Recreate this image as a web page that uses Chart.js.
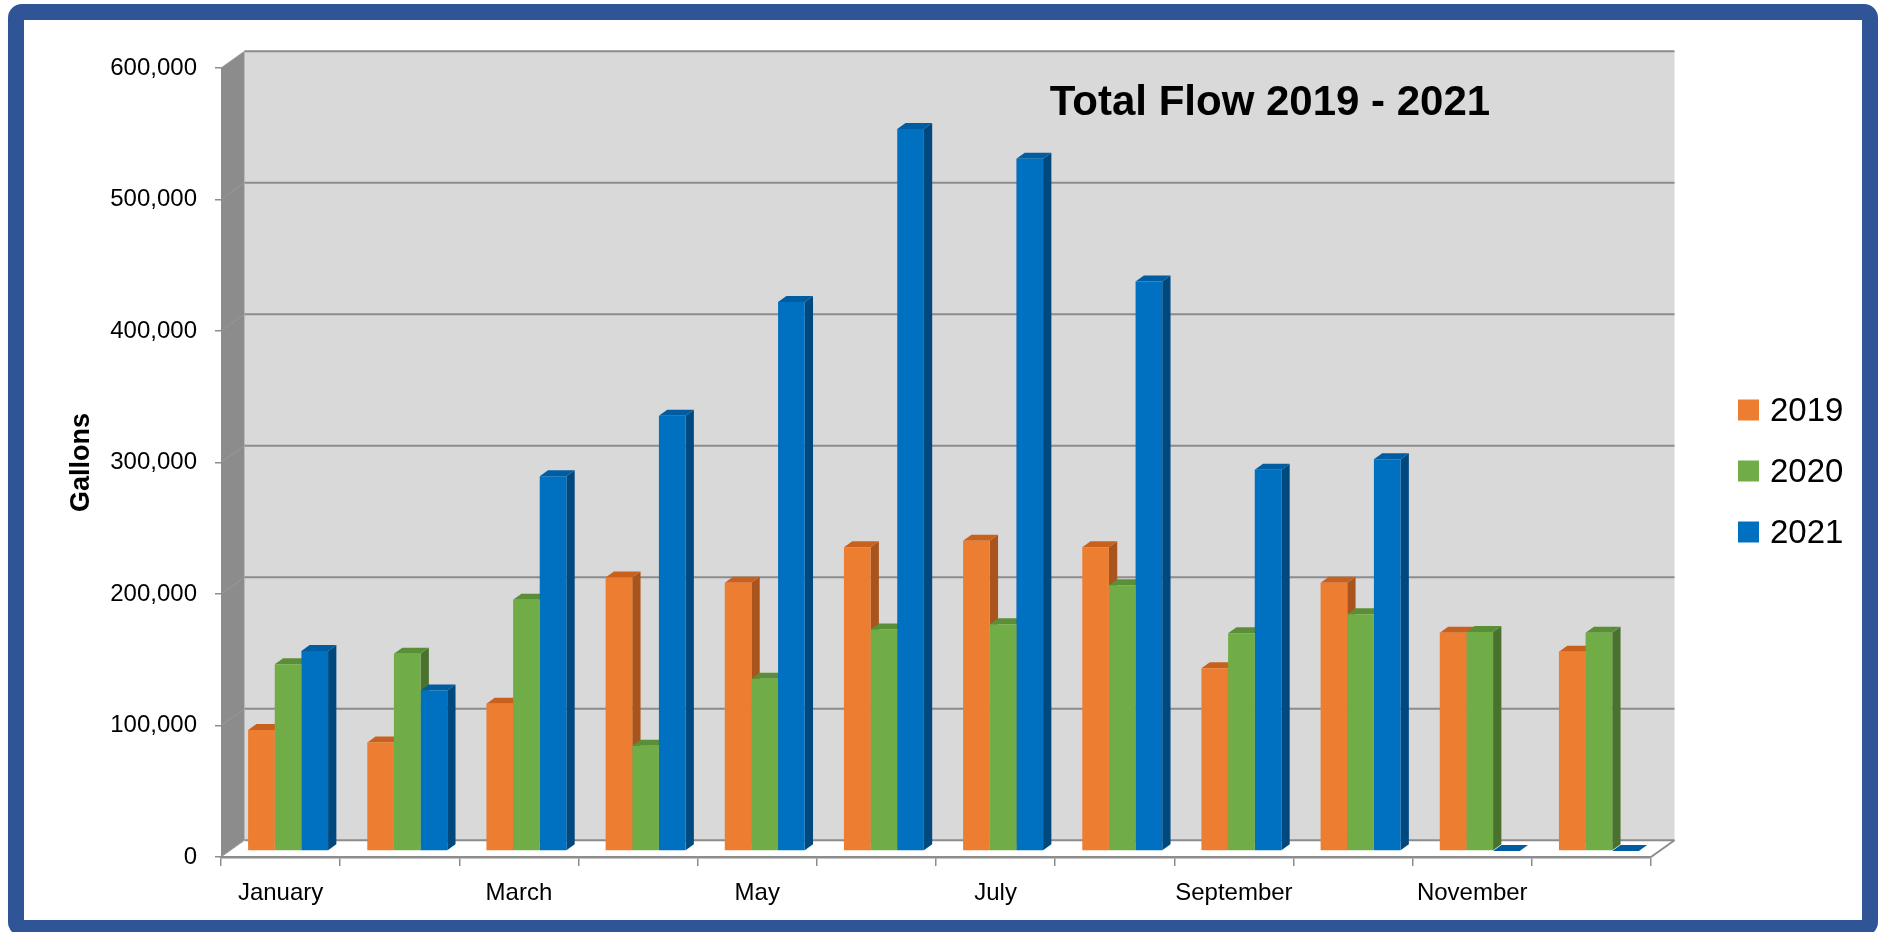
<!DOCTYPE html>
<html>
<head>
<meta charset="utf-8">
<title>Total Flow 2019 - 2021</title>
<script src="https://cdn.jsdelivr.net/npm/chart.js@4.4.1/dist/chart.umd.min.js"></script>
<style>
  html, body { margin: 0; padding: 0; background: #fff; }
  #wrap { position: relative; width: 1883px; height: 932px; overflow: hidden; }
  #frame {
    position: absolute; left: 8px; top: 4px; width: 1870px; height: 932px;
    border: 16px solid #2f5597; border-radius: 14px; box-sizing: border-box;
    pointer-events: none;
  }
</style>
</head>
<body>
<div id="wrap">
  <canvas id="flowChart" width="1883" height="932"></canvas>
  <div id="frame"></div>
</div>
<script>
const months = ['January', 'February', 'March', 'April', 'May', 'June', 'July',
  'August', 'September', 'October', 'November', 'December'];
const seriesNames = ['2019', '2020', '2021'];
const flow2019 = [92000, 82500, 112000, 208000, 204000, 231000, 236000, 231000, 139000, 204000, 166000, 151500];
const flow2020 = [142000, 150000, 191000, 80000, 131000, 168500, 172500, 202000, 165500, 180000, 166500, 166000];
const flow2021 = [152000, 122000, 285000, 331000, 417500, 549000, 526500, 433000, 290000, 298000, 0, 0];

const FONT = "'Liberation Sans', Arial, sans-serif";
const GRID = '#8c8c8c';

// depth of the box (walls) and of the columns
const DX = 23.5, DY = 16.7;
const BDX = 8.3, BDY = 6;
const SHIFT_X = 7.5, SHIFT_Y = -6;

function poly(ctx, pts, fill) {
  ctx.beginPath();
  ctx.moveTo(pts[0][0], pts[0][1]);
  for (let i = 1; i < pts.length; i++) ctx.lineTo(pts[i][0], pts[i][1]);
  ctx.closePath();
  ctx.fillStyle = fill;
  ctx.fill();
}

const walls = {
  id: 'walls',
  beforeDraw(chart) {
    const {ctx, chartArea: a, scales: {y}} = chart;
    ctx.save();
    ctx.fillStyle = '#d9d9d9';
    ctx.fillRect(a.left + DX, a.top - DY, a.width, a.height);
    poly(ctx, [[a.left, a.top], [a.left + DX, a.top - DY], [a.left + DX, a.bottom - DY], [a.left, a.bottom]], '#8c8c8c');
    poly(ctx, [[a.left, a.bottom], [a.left + DX, a.bottom - DY], [a.right + DX, a.bottom - DY], [a.right, a.bottom]], '#ffffff');

    y.ticks.forEach(t => {
      const py = y.getPixelForValue(t.value);
      ctx.strokeStyle = GRID;
      ctx.lineWidth = 2;
      ctx.beginPath();
      ctx.moveTo(a.left + DX, py - DY);
      ctx.lineTo(a.right + DX, py - DY);
      ctx.stroke();
      ctx.strokeStyle = '#999999';
      ctx.lineWidth = 1;
      ctx.beginPath();
      ctx.moveTo(a.left, py);
      ctx.lineTo(a.left + DX, py - DY);
      ctx.stroke();
    });
    ctx.strokeStyle = GRID;
    ctx.lineWidth = 2;
    ctx.beginPath();
    ctx.moveTo(a.right, a.bottom);
    ctx.lineTo(a.right + DX, a.bottom - DY);
    ctx.stroke();
    ctx.restore();
  }
};

// top and side faces go in first, left to right; the library then paints the front faces over them
const bars3d = {
  id: 'bars3d',
  beforeDatasetsDraw(chart) {
    const ctx = chart.ctx;
    ctx.save();
    ctx.translate(SHIFT_X, SHIFT_Y);
    const metas = chart.data.datasets.map((ds, i) => chart.getDatasetMeta(i));
    months.forEach((m, j) => {
      metas.forEach((meta, i) => {
        const ds = chart.data.datasets[i];
        const bar = meta.data[j];
        const {x, y, base, width} = bar.getProps(['x', 'y', 'base', 'width'], true);
        const l = x - width / 2, r = x + width / 2;
        if (base - y > 0.5) {
          poly(ctx, [[r, y], [r + BDX, y - BDY], [r + BDX, base - BDY], [r, base]], ds.sideColor);
        }
        poly(ctx, [[l, y], [l + BDX, y - BDY], [r + BDX, y - BDY], [r, y]], ds.topColor);
      });
    });
  },
  afterDatasetsDraw(chart) {
    chart.ctx.restore();
  }
};

const titleAndLegend = {
  id: 'titleAndLegend',
  afterDraw(chart) {
    const ctx = chart.ctx;
    ctx.save();
    ctx.fillStyle = '#000';
    ctx.font = 'bold 42px ' + FONT;
    ctx.textAlign = 'center';
    ctx.textBaseline = 'alphabetic';
    ctx.fillText('Total Flow 2019 - 2021', 1270, 115);

    ctx.font = '33px ' + FONT;
    ctx.textAlign = 'left';
    chart.data.datasets.forEach((ds, i) => {
      const top = 399.5 + i * 61;
      ctx.fillStyle = ds.backgroundColor;
      ctx.fillRect(1738, top, 21, 21);
      ctx.fillStyle = '#000';
      ctx.fillText(ds.label, 1770, top + 21);
    });
    ctx.restore();
  }
};

new Chart(document.getElementById('flowChart'), {
  type: 'bar',
  data: {
    labels: months,
    datasets: [
      { label: seriesNames[0], data: flow2019, backgroundColor: '#ed7d31', topColor: '#c9611d', sideColor: '#a8541c' },
      { label: seriesNames[1], data: flow2020, backgroundColor: '#70ad47', topColor: '#5a8f37', sideColor: '#4a722e' },
      { label: seriesNames[2], data: flow2021, backgroundColor: '#0070c0', topColor: '#005da2', sideColor: '#00497f' }
    ]
  },
  options: {
    responsive: false,
    devicePixelRatio: 1,
    animation: false,
    layout: { padding: { left: 0, top: 68, right: 232, bottom: 0 } },
    datasets: {
      bar: { categoryPercentage: 0.671, barPercentage: 1, borderWidth: 0 }
    },
    plugins: {
      legend: { display: false },
      title: { display: false },
      tooltip: { enabled: false }
    },
    scales: {
      x: {
        afterFit: scale => { scale.height = 75; },
        grid: { display: true, offset: true, drawOnChartArea: false, drawTicks: true,
          tickLength: 9, color: GRID, tickColor: GRID, lineWidth: 1.5 },
        border: { display: true, color: GRID, width: 2.5 },
        ticks: {
          autoSkip: false, maxRotation: 0, padding: 13, color: '#000',
          font: { family: FONT, size: 24 },
          callback: (v, i) => (i % 2 === 0 ? months[i] : '')
        }
      },
      y: {
        min: 0, max: 600000,
        afterFit: scale => { scale.width = 221; },
        grid: { display: true, drawOnChartArea: false, drawTicks: true,
          tickLength: 6, color: GRID, tickColor: GRID, lineWidth: 1.5 },
        border: { display: true, color: GRID, width: 1 },
        ticks: {
          stepSize: 100000, padding: 18, color: '#000',
          font: { family: FONT, size: 24 },
          callback: v => v.toLocaleString('en-US')
        },
        title: {
          display: true, text: 'Gallons', color: '#000',
          font: { family: FONT, size: 27, weight: 'bold' },
          padding: { top: 65, bottom: 0 }
        }
      }
    }
  },
  plugins: [walls, bars3d, titleAndLegend]
});
</script>
</body>
</html>
